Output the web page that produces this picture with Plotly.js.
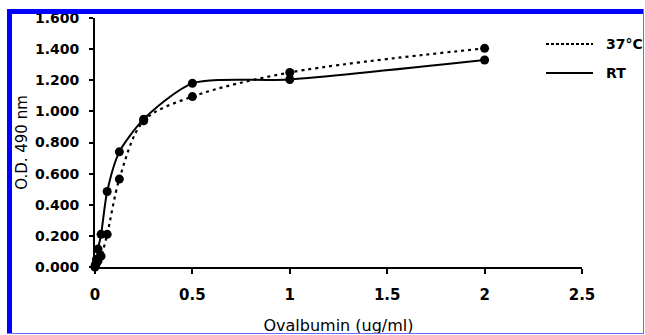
<!DOCTYPE html>
<html>
<head>
<meta charset="utf-8">
<script src="https://cdn.plot.ly/plotly-3.0.1.min.js"></script>
<style>
html,body{margin:0;padding:0;background:#fff;}
#wrap{position:relative;width:645px;height:335px;overflow:hidden;}
#chart{position:absolute;left:0;top:0;width:645px;height:335px;}
.ov{position:absolute;pointer-events:none;}
</style>
</head>
<body>
<div id="wrap">
<div id="chart"></div>
<div class="ov" style="left:0;top:0;width:645px;height:9px;background:#fff;"></div>
<div class="ov" style="left:0;top:0;width:7px;height:335px;background:#fff;"></div>
<div class="ov" style="left:7px;top:9px;width:637px;height:5px;background:#0000ff;"></div>
<div class="ov" style="left:7px;top:9px;width:5px;height:326px;background:#0000ff;"></div>
<div class="ov" style="left:643px;top:9px;width:1px;height:326px;background:#6a6aff;"></div>
<div class="ov" style="left:644px;top:0;width:1px;height:335px;background:#fff;"></div>
<div class="ov" style="left:7px;top:333px;width:637px;height:1px;background:#6a6aff;"></div>
<div class="ov" style="left:0;top:334px;width:645px;height:1px;background:#fff;"></div>
</div>
<script>
// Ovalbumin concentration (ug/ml)
var concentration = [0, 0.0039, 0.0078, 0.0156, 0.03125, 0.0625, 0.125, 0.25, 0.5, 1, 2];
// O.D. 490 nm at 37°C
var od37 = [0.005, 0.015, 0.025, 0.04, 0.07, 0.21, 0.565, 0.94, 1.095, 1.25, 1.405];
// O.D. 490 nm at room temperature
var odRT = [0.0, 0.02, 0.05, 0.115, 0.21, 0.485, 0.74, 0.95, 1.18, 1.205, 1.33];

var seriesNames = ['37°C', 'RT'];
var xTickVals = [0, 0.5, 1, 1.5, 2, 2.5];
var xTickText = ['0', '0.5', '1', '1.5', '2', '2.5'];
var yTickVals = [0, 0.2, 0.4, 0.6, 0.8, 1.0, 1.2, 1.4, 1.6];
var yTickText = ['0.000', '0.200', '0.400', '0.600', '0.800', '1.000', '1.200', '1.400', '1.600'];

var FONT = 'DejaVu Sans, Arial, sans-serif';
var W = 645, H = 335;
var M = {l: 95, r: 63, t: 18, b: 68};
var PW = W - M.l - M.r, PH = H - M.t - M.b;
function px2paperX(p) { return (p - M.l) / PW; }
function px2paperY(p) { return (H - M.b - p) / PH; }

var lineStyles = [
  {color: '#000', width: 2.2, dash: '3px,4px'},
  {color: '#000', width: 2, dash: 'solid'}
];
var legendDash = ['3px,2px', 'solid'];

var traces = [
  {
    x: concentration, y: od37, mode: 'lines+markers', name: seriesNames[0],
    line: Object.assign({}, lineStyles[0], {shape: 'spline', smoothing: 0.9}),
    marker: {color: '#000', size: 9},
    showlegend: false, cliponaxis: false
  },
  {
    x: concentration, y: odRT, mode: 'lines+markers', name: seriesNames[1],
    line: Object.assign({}, lineStyles[1], {shape: 'spline', smoothing: 0.7}),
    marker: {color: '#000', size: 9},
    showlegend: false, cliponaxis: false
  }
];

// manual legend (keeps the plot area from being shrunk)
var legendRowsPx = [44, 73];
var shapes = [], annotations = [];
for (var i = 0; i < seriesNames.length; i++) {
  var yp = px2paperY(legendRowsPx[i]);
  shapes.push({
    type: 'line', xref: 'paper', yref: 'paper',
    x0: px2paperX(546), x1: px2paperX(593), y0: yp, y1: yp,
    line: {color: '#000', width: lineStyles[i].width, dash: legendDash[i]}
  });
  annotations.push({
    xref: 'paper', yref: 'paper', x: px2paperX(604), y: yp,
    xanchor: 'left', yanchor: 'middle', showarrow: false,
    text: seriesNames[i],
    font: {family: FONT, size: 14, weight: 'bold', color: '#000'}
  });
}

var layout = {
  width: W, height: H,
  margin: M,
  paper_bgcolor: '#fff', plot_bgcolor: '#fff',
  font: {family: FONT, color: '#000'},
  showlegend: false,
  shapes: shapes,
  annotations: annotations,
  xaxis: {
    range: [0, 2.5], tickvals: xTickVals, ticktext: xTickText,
    showline: true, linecolor: '#000', linewidth: 2,
    ticks: 'outside', ticklen: 5, tickwidth: 2, tickcolor: '#000',
    showgrid: false, zeroline: false, ticklabelstandoff: 8,
    tickfont: {family: FONT, size: 15, weight: 'bold', color: '#000'},
    title: {text: 'Ovalbumin (ug/ml)', font: {family: FONT, size: 16, color: '#000'}, standoff: 28}
  },
  yaxis: {
    range: [0, 1.6], tickvals: yTickVals, ticktext: yTickText,
    showline: true, linecolor: '#000', linewidth: 2,
    ticks: 'outside', ticklen: 4, tickwidth: 2, tickcolor: '#000',
    showgrid: false, zeroline: false, ticklabelstandoff: 7,
    tickfont: {family: FONT, size: 14, weight: 'bold', color: '#000'},
    title: {text: 'O.D. 490 nm', font: {family: FONT, size: 15, color: '#000'}, standoff: 4}
  }
};

Plotly.newPlot('chart', traces, layout, {displayModeBar: false, staticPlot: true});
</script>
</body>
</html>
